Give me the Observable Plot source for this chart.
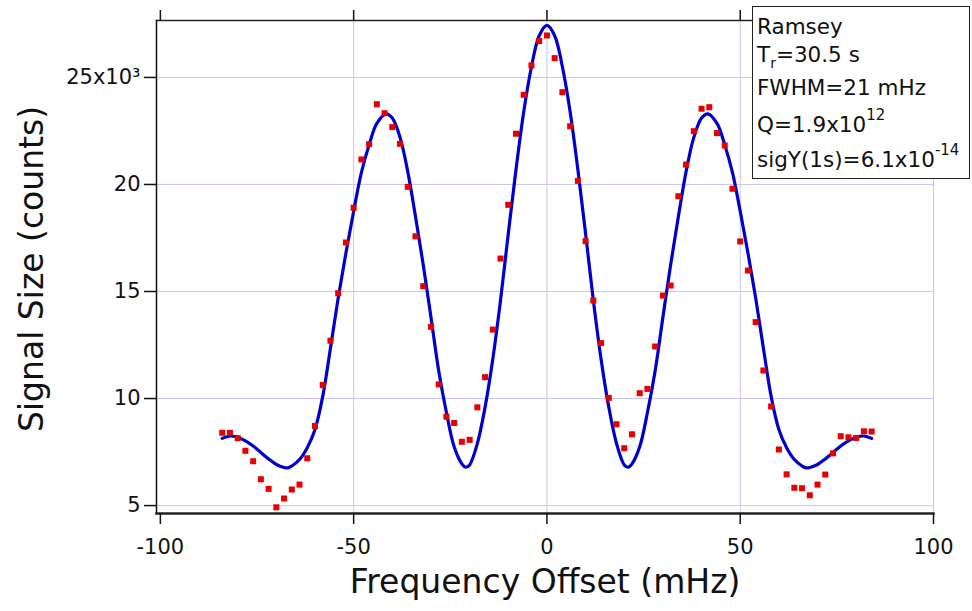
<!DOCTYPE html>
<html><head><meta charset="utf-8">
<script src="https://cdn.jsdelivr.net/npm/d3@7"></script>
<script src="https://cdn.jsdelivr.net/npm/@observablehq/plot@0.6"></script>
<style>
html,body{margin:0;padding:0;background:#fff;}
#wrap{position:relative;width:972px;height:611px;font-family:"DejaVu Sans",sans-serif;color:#111;}
#wrap svg{display:block;}
#box{position:absolute;left:752px;top:6px;width:216px;height:171px;border:1.5px solid #222;background:#fff;}
.ln{position:absolute;left:757px;font-size:21.5px;line-height:21px;white-space:nowrap;}
.sup{position:relative;top:-12px;font-size:15px;}
.sub{position:relative;top:6px;font-size:14px;}
</style></head><body><div id="wrap"></div>
<script>
// Measured points: frequency offset (mHz) and signal size (x10^3 counts)
const freqs = [-84,-82,-80,-78,-76,-74,-72,-70,-68,-66,-64,-62,-60,-58,-56,-54,-52,-50,-48,-46,-44,-42,-40,-38,-36,-34,-32,-30,-28,-26,-24,-22,-20,-18,-16,-14,-12,-10,-8,-6,-4,-2,0,2,4,6,8,10,12,14,16,18,20,22,24,26,28,30,32,34,36,38,40,42,44,46,48,50,52,54,56,58,60,62,64,66,68,70,72,74,76,78,80,82,84];
const counts = [8.40,8.40,8.15,7.56,7.07,6.23,5.78,4.92,5.33,5.75,5.98,7.21,8.72,10.63,12.70,14.92,17.29,18.91,21.17,21.88,23.75,23.33,22.68,21.90,19.89,17.58,15.25,13.35,10.66,9.15,8.86,7.98,8.07,9.59,11.00,13.22,16.54,19.05,22.37,24.19,25.56,26.70,26.96,25.90,24.31,22.72,20.17,17.35,14.58,12.59,10.03,8.80,7.68,8.33,10.25,10.45,12.43,14.81,15.28,19.45,20.93,22.49,23.54,23.61,22.40,21.82,19.80,17.34,15.98,13.57,11.31,9.63,7.62,6.46,5.83,5.81,5.48,5.98,6.45,7.44,8.24,8.19,8.16,8.47,8.46];
// Fit curve
const fitFreqs = [-84,-82,-80,-78,-76,-74,-72,-70,-68,-67,-66,-64,-62,-60,-58,-56,-54,-52,-50,-48,-46,-44,-41.6,-40,-38,-36,-34,-32,-30,-28,-26,-24,-22,-21,-20,-18,-16,-14,-12,-10,-8,-6,-4,-2,0,2,4,6,8,10,12,14,16,18,20,21,22,24,26,28,30,32,34,36,38,40,41.6,44,46,48,50,52,54,56,58,60,62,64,66,67,68,70,72,74,76,78,80,82,84];
const fitCounts = [8.14,8.25,8.19,8.02,7.78,7.48,7.18,6.92,6.78,6.76,6.85,7.15,7.7,8.55,10.1,12.35,14.7,16.8,18.75,20.55,21.85,22.85,23.30,23.1,22.2,20.6,18.5,16.25,13.8,11.3,9.35,7.75,6.95,6.79,6.9,7.9,9.6,11.85,14.6,17.7,20.7,23.4,25.5,26.95,27.43,26.95,25.5,23.4,20.7,17.7,14.6,11.85,9.6,7.9,6.9,6.79,6.95,7.75,9.35,11.3,13.8,16.25,18.5,20.6,22.2,23.1,23.30,22.85,21.85,20.55,18.75,16.8,14.7,12.35,10.1,8.55,7.7,7.15,6.85,6.76,6.78,6.92,7.18,7.48,7.78,8.02,8.19,8.25,8.14];
const xTicks = [-100,-50,0,50,100];
const xTickLabels = ["-100","-50","0","50","100"];
const yTicks = [5,10,15,20,25];
const yTickLabels = ["5","10","15","20","25x10\u00B3"];
const xTitle = "Frequency Offset (mHz)";
const yTitle = "Signal Size (counts)";
const noteLines = [
  [["Ramsey",""]],
  [["T",""],["r","sub"],["=30.5 s",""]],
  [["FWHM=21 mHz",""]],
  [["Q=1.9x10",""],["12","sup"]],
  [["sigY(1s)=6.1x10",""],["-14","sup"]]
];

const pts = freqs.map((f,i)=>({f, c: counts[i]}));
const fit = fitFreqs.map((f,i)=>({f, c: fitCounts[i]}));
const gridCol = "#c6c6f6";

const chart = Plot.plot({
  width: 972, height: 611,
  marginLeft: 156, marginRight: 39, marginTop: 20, marginBottom: 98,
  style: {fontFamily: "DejaVu Sans", fontSize: "21px", color: "#111", background: "white", overflow: "visible"},
  x: {domain: [-101, 100]},
  y: {domain: [4.63, 27.66]},
  marks: [
    Plot.gridX(xTicks.slice(1), {stroke: gridCol, strokeOpacity: 1, strokeWidth: 1}),
    Plot.gridY(yTicks, {stroke: gridCol, strokeOpacity: 1, strokeWidth: 1}),
    Plot.line(fit, {x: "f", y: "c", stroke: "#0000cc", strokeWidth: 3.2, curve: "catmull-rom"}),
    Plot.dot(pts, {x: "f", y: "c", symbol: "square", fill: "#e60000", r: 3.4}),
    Plot.frame({anchor: "left", stroke: "#111", strokeWidth: 1.5}),
    Plot.frame({anchor: "top", stroke: "#222", strokeWidth: 1.5}),
    Plot.frame({anchor: "bottom", stroke: "#222", strokeWidth: 2.5}),
    Plot.axisX({ticks: xTicks, tickSize: 11, tickPadding: 15, tickFormat: d => xTickLabels[xTicks.indexOf(d)], label: null, fontSize: 21, strokeWidth: 1.5}),
    Plot.axisX({anchor: "top", ticks: xTicks, tickSize: 11, tickFormat: () => "", label: null, strokeWidth: 1.5}),
    Plot.axisY({ticks: yTicks, tickSize: 12, tickPadding: 4, tickFormat: d => yTickLabels[yTicks.indexOf(d)], label: null, fontSize: 21, strokeWidth: 1.5}),
    Plot.text([xTitle], {text: d => d, frameAnchor: "bottom", textAnchor: "middle", lineAnchor: "middle", dy: 69, fontSize: 33}),
    Plot.text([yTitle], {text: d => d, frameAnchor: "left", textAnchor: "middle", lineAnchor: "middle", dx: -124, dy: 2, rotate: -90, fontSize: 33})
  ]
});
const wrap = document.getElementById("wrap");
wrap.appendChild(chart);
const box = document.createElement("div");
box.id = "box";
wrap.appendChild(box);
const tops = [15.5, 44, 77, 114, 149];
noteLines.forEach((segs, i) => {
  const div = document.createElement("div");
  div.className = "ln";
  div.style.top = tops[i] + "px";
  segs.forEach(([t, cls]) => {
    const s = document.createElement("span");
    if (cls) s.className = cls;
    s.textContent = t;
    div.appendChild(s);
  });
  wrap.appendChild(div);
});
</script></body></html>
